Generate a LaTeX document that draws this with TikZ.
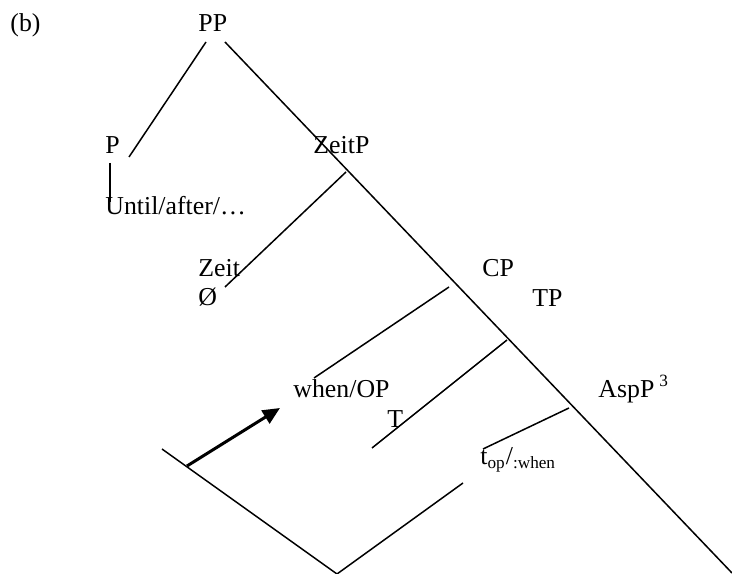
\documentclass[tikz,border=0pt]{standalone}
\usepackage{fontspec}
\setmainfont{Liberation Serif}
\usepackage{tikz}
\usetikzlibrary{arrows.meta}

\tikzset{
  lbl/.style={font=\fontsize{12}{14}\selectfont, inner sep=0pt, anchor=base west},
  branch/.style={line width=0.7pt},
  move/.style={line width=1.4pt, -{Triangle[length=8pt,width=7pt]}}
}

\begin{document}
\begin{tikzpicture}[x=0.465pt, y=-0.465pt]
	\useasboundingbox (0,0) rectangle (732,574);
	\node[lbl] (b) at (10,32) {(b)};
	\node[lbl] (pp) at (198,32) {PP};
	\node[lbl] (p) at (105,154) {P};
	\node[lbl] (zeitp) at (313,154) {ZeitP};
	\node[lbl] (until) at (105,215) {Until/after/…};
	\node[lbl] (zeit) at (198,277) {Zeit};
	\node[lbl] (empty) at (198,306) {Ø};
	\node[lbl] (cp) at (482,277) {CP};
	\node[lbl] (tp) at (532,307) {TP};
	\node[lbl] (whenop) at (293,398) {when/OP};
	\node[lbl] (t) at (387,428) {T};
	\node[lbl] (aspp) at (598,398) {AspP};
	\node[lbl, font=\fontsize{8}{9}\selectfont] (fn) at (659,387) {3};
	\node[lbl] (trace) at (480,465) {t\textsubscript{op}/\textsubscript{:when}};
	\coordinate (ppL) at (206,42);
	\coordinate (ppR) at (225,42);
	\coordinate (pEnd) at (129,157);
	\coordinate (spine) at (732,573);
	\coordinate (pTop) at (110,163);
	\coordinate (pBot) at (110,202);
	\coordinate (zpTop) at (346,172);
	\coordinate (zpBot) at (225,287);
	\coordinate (cpTop) at (449,287);
	\coordinate (cpBot) at (314,378);
	\coordinate (tpTop) at (507,340);
	\coordinate (tpBot) at (372,448);
	\coordinate (aspTop) at (569,408);
	\coordinate (aspBot) at (483,449);
	\coordinate (vL) at (162,449);
	\coordinate (vB) at (337,574);
	\coordinate (vR) at (463,483);
	\coordinate (mvFrom) at (187,466);
	\coordinate (mvTo) at (280,408);
	\draw[branch] (ppL) -- (pEnd);
	\draw[branch] (ppR) -- (spine);
	\draw[branch] (pTop) -- (pBot);
	\draw[branch] (zpTop) -- (zpBot);
	\draw[branch] (cpTop) -- (cpBot);
	\draw[branch] (tpTop) -- (tpBot);
	\draw[branch] (aspTop) -- (aspBot);
	\draw[branch] (vL) -- (vB) -- (vR);
	\draw[move] (mvFrom) -- (mvTo);
\end{tikzpicture}
\end{document}
